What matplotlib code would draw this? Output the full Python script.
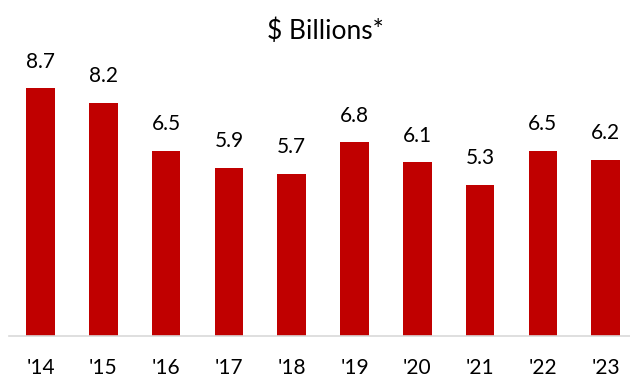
import numpy as np
from matplotlib import pyplot as plt

plt.rcParams['font.family'] = ['Lato', 'DejaVu Sans']

years = ["'14", "'15", "'16", "'17", "'18", "'19", "'20", "'21", "'22", "'23"]
valores = [8.7, 8.2, 6.5, 5.9, 5.7, 6.8, 6.1, 5.3, 6.5, 6.2]

fig = plt.figure(figsize=(6.30, 3.79), dpi=100)
ax = fig.add_axes([0, 0.1135, 1, 0.781])

x = np.arange(len(years))
barras = ax.bar(x, valores, width=0.455, color='#C00000')

for xi, v in zip(x, valores):
    ax.annotate(f'{v:.1f}', (xi, v), xytext=(0, 12), textcoords='offset points',
                ha='center', va='bottom', fontsize=15, color='black')

ax.set_xlim(-0.645, 9.387)
ax.set_ylim(0, 10.4)
ax.set_xticks(x)
ax.set_xticklabels(years, fontsize=15)
ax.tick_params(axis='x', length=0, pad=16)
ax.set_yticks([])
for s in ['top', 'right', 'left']:
    ax.spines[s].set_visible(False)
ax.spines['bottom'].set_color('#D9D9D9')
ax.spines['bottom'].set_linewidth(1.2)
ax.spines['bottom'].set_bounds(-0.5, 9.5)

fig.text(0.516, 0.918, '$ Billions*', ha='center', va='center', fontsize=19)

plt.savefig('out.png', dpi=100)
